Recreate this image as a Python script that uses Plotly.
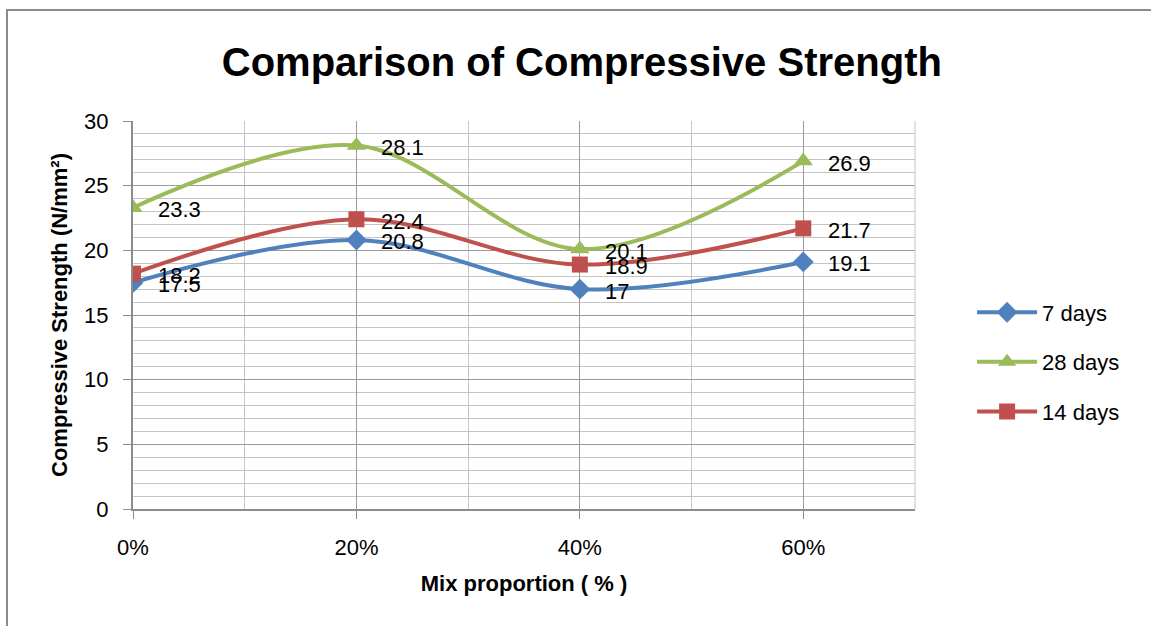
import plotly.graph_objects as go

# Data
mix = [0.0, 0.2, 0.4, 0.6]
mix_labels = ["0%", "20%", "40%", "60%"]
series_names = ["7 days", "28 days", "14 days"]
days7 = [17.5, 20.8, 17.0, 19.1]
days28 = [23.3, 28.1, 20.1, 26.9]
days14 = [18.2, 22.4, 18.9, 21.7]

colors = ["#4F81BD", "#9BBB59", "#C0504D"]
symbols = ["diamond", "triangle-up", "square"]
sizes = [16, 17, 16]
all_vals = [days7, days28, days14]

FONT = "Liberation Sans, Arial, sans-serif"

fig = go.Figure()
annotations = []
for i, (name, vals, c, s, sz) in enumerate(zip(series_names, all_vals, colors, symbols, sizes)):
    fig.add_trace(go.Scatter(
        x=mix, y=vals, name=name, mode="lines+markers", legendgroup=f"g{i}",
        line=dict(color=c, width=4, shape="spline", smoothing=1.0),
        marker=dict(symbol=s, size=sz, color=c, line=dict(width=0)),
    ))
    for xv, yv in zip(mix, vals):
        annotations.append(dict(
            x=xv, y=yv, xref="x", yref="y", text=f"{yv:g}",
            showarrow=False, xanchor="left", yanchor="middle",
            xshift=23, yshift=-2,
            font=dict(family=FONT, size=22, color="#000000"),
        ))

fig.update_layout(
    width=1151, height=626,
    paper_bgcolor="white", plot_bgcolor="white",
    margin=dict(l=133, r=236, t=121, b=117),
    title=dict(text="<b>Comparison of Compressive Strength</b>",
               x=0.5055, xanchor="center", y=0.901, yanchor="middle",
               font=dict(family=FONT, size=40, color="#000000")),
    font=dict(family=FONT, size=22, color="#000000"),
    showlegend=True,
    legend=dict(x=1.073, y=0.379, xanchor="left", yanchor="middle",
                font=dict(family=FONT, size=22, color="#000000"),
                itemwidth=60, tracegroupgap=18, bgcolor="rgba(0,0,0,0)"),
    annotations=annotations,
)

fig.update_xaxes(
    range=[0, 0.7], tickmode="array", tickvals=mix, ticktext=mix_labels,
    showgrid=True, gridcolor="#9a9a9a", gridwidth=1,
    minor=dict(dtick=0.1, tick0=0, showgrid=True, gridcolor="#c4c4c4", gridwidth=1, ticks=""),
    ticks="outside", ticklen=8, tickcolor="#8c8c8c", tickwidth=1,
    ticklabelstandoff=10,
    showline=True, linecolor="#8c8c8c", linewidth=2, mirror=False,
    tickfont=dict(family=FONT, size=22), zeroline=False,
    title=dict(text="<b>Mix proportion ( % )</b>", standoff=16,
               font=dict(family=FONT, size=22)),
)
fig.update_yaxes(
    range=[0, 30], dtick=5, tick0=0,
    showgrid=True, gridcolor="#9a9a9a", gridwidth=1,
    minor=dict(dtick=1, tick0=0, showgrid=True, gridcolor="#c4c4c4", gridwidth=1, ticks=""),
    ticks="outside", ticklen=8, tickcolor="#8c8c8c", tickwidth=1,
    ticklabelstandoff=10,
    showline=True, linecolor="#8c8c8c", linewidth=2, mirror=False,
    tickfont=dict(family=FONT, size=22), zeroline=False,
    title=dict(text="<b>Compressive Strength (N/mm²)</b>", standoff=10,
               font=dict(family=FONT, size=22)),
)

# right plot border (light)
fig.add_shape(type="line", xref="paper", yref="paper", x0=1, x1=1, y0=0, y1=1,
              line=dict(color="#c4c4c4", width=1))
# outer chart border
fig.add_shape(type="rect", xref="paper", yref="paper",
              x0=(7 - 133) / 782, x1=(1160 - 133) / 782,
              y0=(509 - 640) / 388, y1=(509 - 10) / 388,
              line=dict(color="#8c8c8c", width=2), layer="below")

fig.write_html("out.html", config={"displayModeBar": False},
               post_script="document.body.style.margin='0';document.body.style.overflow='hidden';")
